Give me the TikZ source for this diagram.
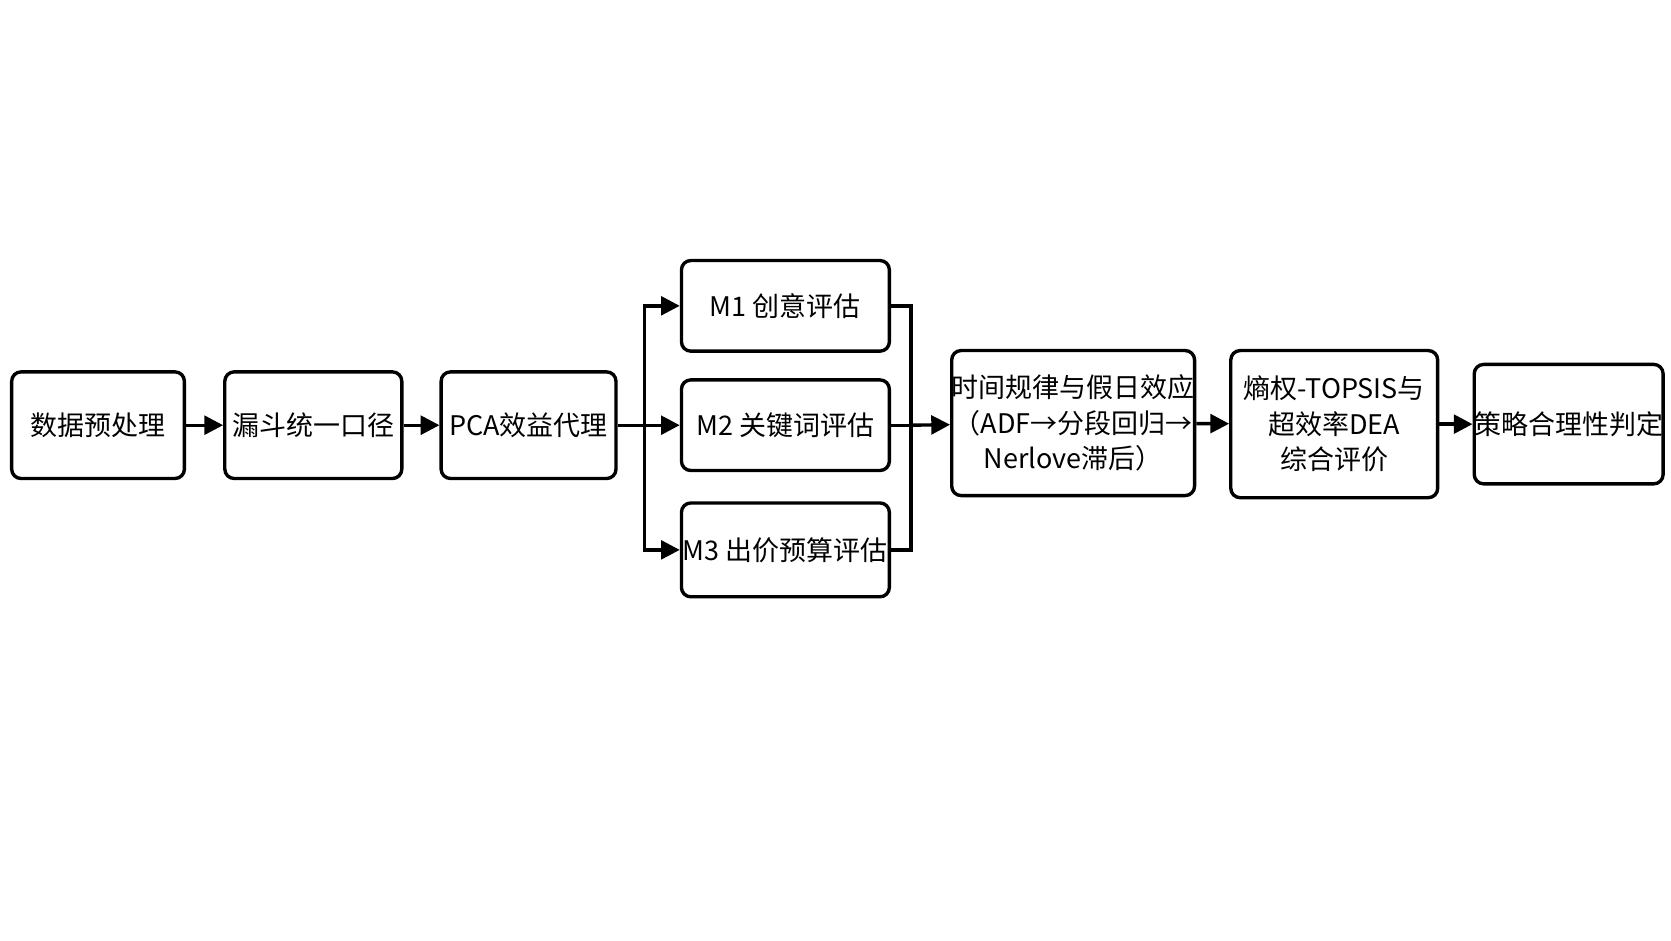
\documentclass[tikz,border=0pt]{standalone}
\usepackage{fontspec}
\newfontfamily\cjk{Noto Sans CJK SC}
\usetikzlibrary{arrows.meta}
\tikzset{
  box/.style = {draw = black, line width = 0.9pt, rounded corners = 2.5pt, align = center, font = \cjk\fontsize{7.2}{9.5}\selectfont, inner sep = 0pt},
  link/.style = {line width = 0.9pt, -{Triangle[length = 5pt, width = 5pt]}}
}
\begin{document}
\begin{tikzpicture} [x = 0.01cm, y = -0.01cm]
\useasboundingbox (0, 0) rectangle (1568, 883);
\node[box, minimum width = 1.62cm, minimum height = 1.0cm] (prep) at (92, 399){数据预处理};
\node[box, minimum width = 1.66cm, minimum height = 1.0cm] (funnel) at (294, 399){漏斗统一口径};
\node[box, minimum width = 1.64cm, minimum height = 1.0cm] (pca) at (496, 399){PCA效益代理};
\node[box, minimum width = 1.95cm, minimum height = 0.85cm] (mone) at (737, 287){M1 创意评估};
\node[box, minimum width = 1.95cm, minimum height = 0.85cm] (mtwo) at (737, 399){M2 关键词评估};
\node[box, minimum width = 1.95cm, minimum height = 0.88cm] (mthree) at (737, 516){M3 出价预算评估};
\node[box, minimum width = 2.18cm, minimum height = 1.36cm] (time) at (1007, 397){时间规律与假日效应\\（ADF→分段回归→\\Nerlove滞后）};
\node[box, minimum width = 1.94cm, minimum height = 1.38cm] (topsis) at (1252, 398){熵权-TOPSIS与\\超效率DEA\\综合评价};
\node[box, minimum width = 1.68cm, minimum height = 1.12cm] (judge) at (1472, 398){策略合理性判定};
\coordinate (split) at (605, 399);
\coordinate (merge) at (855, 399);
\draw[link] (prep) -- (funnel);
\draw[link] (funnel) -- (pca);
\draw[line width = 0.9pt] (pca) -- (split);
\draw[link] (split) |- (mone);
\draw[link] (split) -- (mtwo);
\draw[link] (split) |- (mthree);
\draw[line width = 0.9pt] (mone) -| (merge);
\draw[line width = 0.9pt] (mthree) -| (merge);
\draw[line width = 0.9pt] (mtwo) -- (merge);
\draw[link] (merge) -- (time);
\draw[link] (time) -- (topsis);
\draw[link] (topsis) -- (judge);
\end{tikzpicture}
\end{document}
